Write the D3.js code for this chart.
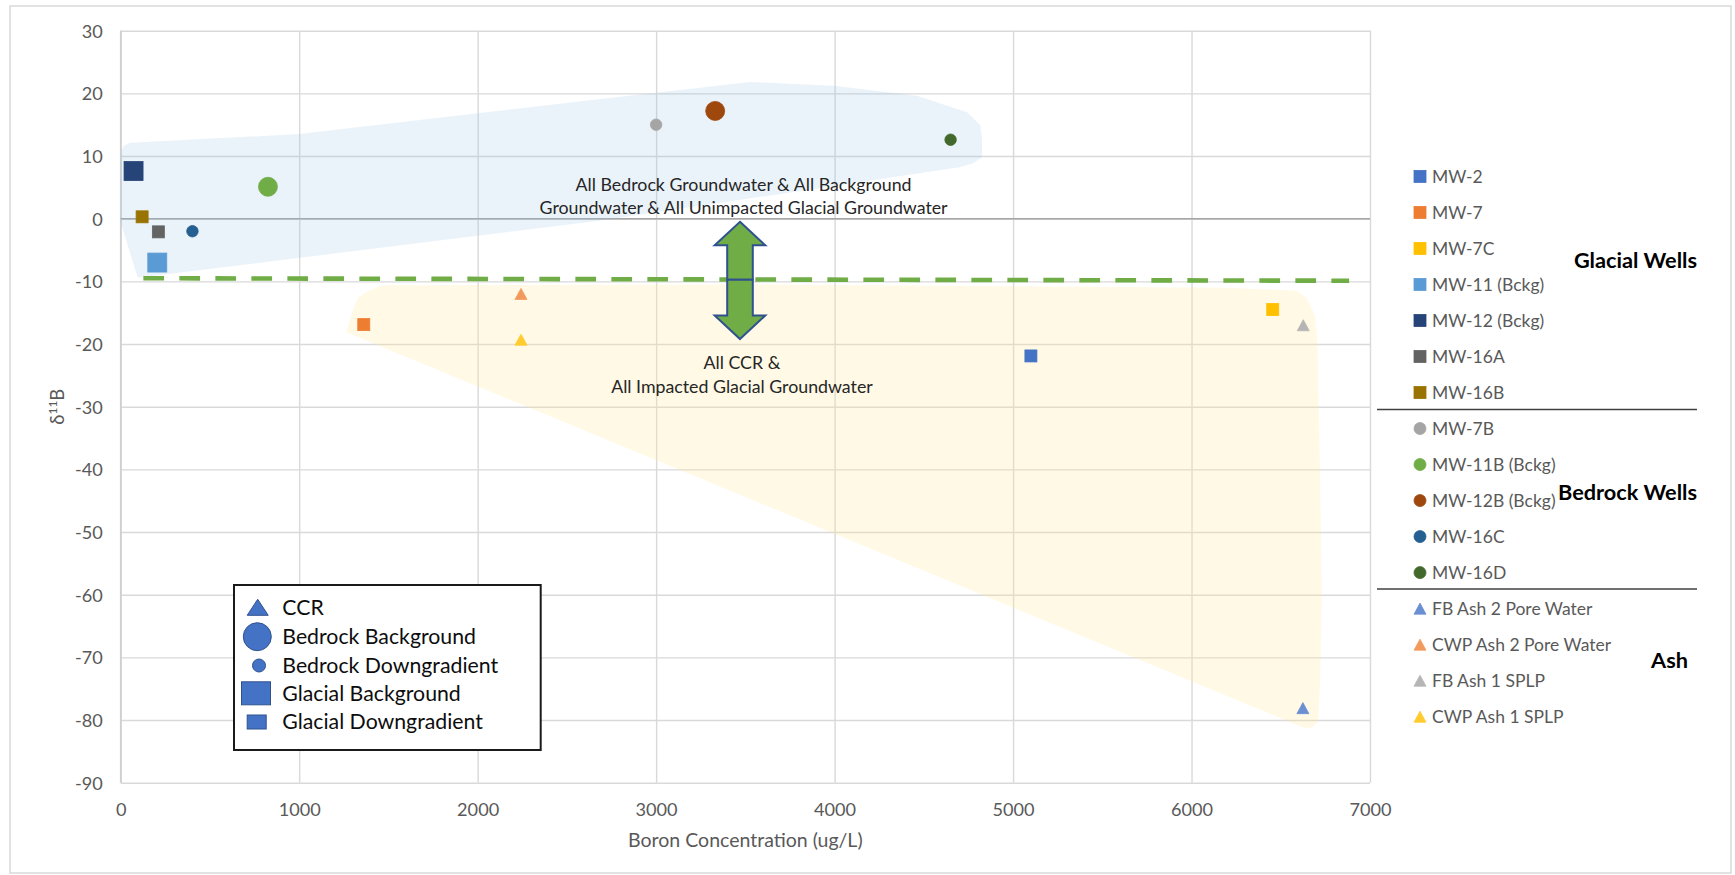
<!DOCTYPE html>
<html>
<head>
<meta charset="utf-8">
<script src="https://cdn.jsdelivr.net/npm/d3@7"></script>
<style>
  html, body { margin: 0; padding: 0; background: #fff; }
  svg { display: block; }
</style>
</head>
<body>
<div class="container"></div>
<script>
// glacial wells (squares)
var glacialWells = ['MW-2', 'MW-7', 'MW-7C', 'MW-11 (Bckg)', 'MW-12 (Bckg)', 'MW-16A', 'MW-16B'];
var glacialBoron = [5100, 1362, 6455, 205, 72, 211, 120];
var glacialD11B = [-21.9, -16.9, -14.5, -7.0, 7.6, -2.1, 0.3];
var glacialBackground = [false, false, false, true, true, false, false];

// bedrock wells (circles)
var bedrockWells = ['MW-7B', 'MW-11B (Bckg)', 'MW-12B (Bckg)', 'MW-16C', 'MW-16D'];
var bedrockBoron = [3000, 825, 3331, 402, 4650];
var bedrockD11B = [15.0, 5.1, 17.2, -2.0, 12.6];
var bedrockBackground = [false, true, true, false, false];

// ash samples (triangles)
var ashSamples = ['FB Ash 2 Pore Water', 'CWP Ash 2 Pore Water', 'FB Ash 1 SPLP', 'CWP Ash 1 SPLP'];
var ashBoron = [6624, 2243, 6626, 2243];
var ashD11B = [-78.1, -12.0, -17.0, -19.3];

var xTicks = [0, 1000, 2000, 3000, 4000, 5000, 6000, 7000];
var yTicks = [30, 20, 10, 0, -10, -20, -30, -40, -50, -60, -70, -80, -90];

// hand drawn zones, in data units
var bedrockZone = [[0, 10.3], [15, 11.6], [52, 12.1], [1000, 13.5], [2690, 19.1], [3527, 21.8], [3994, 21.2],
  [4462, 19.6], [4742, 17.0], [4817, 14.9], [4826, 12.7], [4826, 9.8], [4780, 8.9], [4700, 8.2],
  [2690, -0.3], [130, -9.3], [95, -9.4], [0, -0.6]];
var ccrZone = [[1265, -18.1], [1300, -14.6], [1330, -12.6], [1383, -11.6], [1470, -10.6], [3500, -10.5],
  [6200, -11.0], [6590, -11.5], [6645, -12.7], [6692, -15.5], [6705, -19.9], [6720, -40.8], [6729, -60],
  [6721, -73.4], [6710, -80], [6688, -80.9], [6653, -81.4], [6619, -81.1]];
var splitLine = [[127, -9.5], [6883, -9.9]];
var arrowX = 3470, arrowTop = -0.5, arrowMid = -9.75, arrowBottom = -19.2;

var upperNote = ['All Bedrock Groundwater & All Background', 'Groundwater & All Unimpacted Glacial Groundwater'];
var upperNoteAt = [[3490, 5.4], [3490, 1.7]];
var lowerNote = ['All CCR &', 'All Impacted Glacial Groundwater'];
var lowerNoteAt = [[3481, -23.05], [3481, -26.9]];

var groupLabels = ['Glacial Wells', 'Bedrock Wells', 'Ash'];
var shapeKey = ['CCR', 'Bedrock Background', 'Bedrock Downgradient', 'Glacial Background', 'Glacial Downgradient'];

// colours
var glacialColors = ['#4472C4', '#ED7D31', '#FFC000', '#5B9BD5', '#264478', '#636363', '#997300'];
var bedrockColors = ['#A5A5A5', '#70AD47', '#9E480E', '#255E91', '#43682B'];
var ashColors = ['#6A8FD2', '#F29A5C', '#B5B5B5', '#FFCB2E'];

var W = 1735, H = 875;
var svg = d3.select('.container').append('svg').attr('width', W).attr('height', H);

// Lato is close to Calibri, scale it so widths line up
var probe = svg.append('text').style('font-family', 'Lato').style('font-size', '23px').text('Bedrock Downgradient');
var k = 214.9 / probe.node().getComputedTextLength();
probe.remove();
function fs(c) { return (c * k).toFixed(2) + 'px'; }

svg.append('rect')
  .attr('x', 10).attr('y', 6).attr('width', 1721).attr('height', 867)
  .attr('fill', '#fff').attr('stroke', '#D9D9D9').attr('stroke-width', 1.5);

var x = d3.scaleLinear().domain([0, 7000]).range([120.7, 1370]);
var y = d3.scaleLinear().domain([-90, 30]).range([782.7, 30.7]);

// grid + tick labels (plain hyphen for negatives, like Excel)
var plain = function (d) { return String(d); };
var gx = svg.append('g')
  .attr('transform', 'translate(0,' + y(-90) + ')')
  .call(d3.axisBottom(x).tickValues(xTicks).tickSize(-(y(-90) - y(30))).tickFormat(plain));
var gy = svg.append('g')
  .attr('transform', 'translate(' + x(0) + ',0)')
  .call(d3.axisLeft(y).tickValues(yTicks).tickSize(-(x(7000) - x(0))).tickFormat(plain));
[gx, gy].forEach(function (g) {
  g.select('.domain').remove();
  g.selectAll('line').attr('stroke', '#D9D9D9').attr('stroke-width', 1.4);
  g.selectAll('text').attr('fill', '#595959').style('font-family', 'Lato').style('font-size', fs(19.7));
});
gx.selectAll('text').attr('y', 26.5).attr('dy', '0.35em');
gy.selectAll('text').attr('x', -18).attr('dy', '0.35em');

svg.append('line')
  .attr('x1', x(0)).attr('x2', x(0)).attr('y1', y(30)).attr('y2', y(-90))
  .attr('stroke', '#D0D0D0').attr('stroke-width', 1.6);
svg.append('line')
  .attr('x1', x(0)).attr('x2', x(7000)).attr('y1', y(0)).attr('y2', y(0))
  .attr('stroke', '#A6A6A6').attr('stroke-width', 1.6);

// axis titles
svg.append('text')
  .attr('x', (x(0) + x(7000)) / 2).attr('y', 840).attr('dy', '0.35em')
  .attr('text-anchor', 'middle').attr('fill', '#595959')
  .style('font-family', 'Lato').style('font-size', fs(21.2))
  .text('Boron Concentration (ug/L)');

var yt = svg.append('text')
  .attr('transform', 'translate(58,' + (y(30) + y(-90)) / 2 + ') rotate(-90)')
  .attr('text-anchor', 'middle').attr('dy', '0.35em').attr('fill', '#595959')
  .style('font-family', 'Lato').style('font-size', fs(20));
yt.append('tspan').text('δ');
yt.append('tspan').attr('dy', -8 * k).style('font-size', fs(13)).text('11');
yt.append('tspan').attr('dy', 8 * k).text('B');

// zones
var zoneLine = d3.line()
  .x(function (d) { return x(d[0]); })
  .y(function (d) { return y(d[1]); })
  .curve(d3.curveLinearClosed);
svg.append('path').attr('d', zoneLine(bedrockZone)).attr('fill', '#9DC3E6').attr('fill-opacity', 0.2);
svg.append('path').attr('d', zoneLine(ccrZone)).attr('fill', '#FFE699').attr('fill-opacity', 0.25);

// markers
function drawMarker(g, shape, size, color, stroke) {
  if (shape === 'square') {
    g.append('rect').attr('x', -size / 2).attr('y', -size / 2).attr('width', size).attr('height', size)
      .attr('fill', color).attr('stroke', stroke || color).attr('stroke-width', 0.8);
  } else if (shape === 'circle') {
    g.append('circle').attr('r', size / 2)
      .attr('fill', color).attr('stroke', stroke || color).attr('stroke-width', 0.8);
  } else {
    var h = size * 0.92;
    g.append('path').attr('d', 'M0,' + (-h / 2) + 'L' + (size / 2) + ',' + (h / 2) + 'L' + (-size / 2) + ',' + (h / 2) + 'Z')
      .attr('fill', color).attr('stroke', stroke || color).attr('stroke-width', 0.8);
  }
}

var points = svg.append('g');
glacialWells.forEach(function (n, i) {
  var g = points.append('g').attr('transform', 'translate(' + x(glacialBoron[i]) + ',' + y(glacialD11B[i]) + ')');
  drawMarker(g, 'square', glacialBackground[i] ? 19 : 12, glacialColors[i]);
});
bedrockWells.forEach(function (n, i) {
  var g = points.append('g').attr('transform', 'translate(' + x(bedrockBoron[i]) + ',' + y(bedrockD11B[i]) + ')');
  drawMarker(g, 'circle', bedrockBackground[i] ? 19 : 11.5, bedrockColors[i]);
});
ashSamples.forEach(function (n, i) {
  var g = points.append('g').attr('transform', 'translate(' + x(ashBoron[i]) + ',' + y(ashD11B[i]) + ')');
  drawMarker(g, 'triangle', 12, ashColors[i]);
});

// dashed divider
svg.append('line')
  .attr('x1', x(splitLine[0][0])).attr('y1', y(splitLine[0][1]))
  .attr('x2', x(splitLine[1][0])).attr('y2', y(splitLine[1][1]))
  .attr('stroke', '#70AD47').attr('stroke-width', 4.6).attr('stroke-dasharray', '20.7 15.3');

// double arrow (two block arrows meeting at the middle)
var ax = x(arrowX), hw = 25.3, sw = 12.8, hh = 23.5;
function blockArrow(tip, base, dir) {
  var b = tip + dir * hh;
  return 'M' + ax + ',' + tip + 'L' + (ax + hw) + ',' + b + 'L' + (ax + sw) + ',' + b + 'L' + (ax + sw) + ',' + base +
    'L' + (ax - sw) + ',' + base + 'L' + (ax - sw) + ',' + b + 'L' + (ax - hw) + ',' + b + 'Z';
}
svg.append('path').attr('d', blockArrow(y(arrowTop), y(arrowMid), 1))
  .attr('fill', '#70AD47').attr('stroke', '#2F528F').attr('stroke-width', 2).attr('stroke-linejoin', 'miter');
svg.append('path').attr('d', blockArrow(y(arrowBottom), y(arrowMid), -1))
  .attr('fill', '#70AD47').attr('stroke', '#2F528F').attr('stroke-width', 2).attr('stroke-linejoin', 'miter');

// notes
function note(lines, at) {
  lines.forEach(function (t, i) {
    svg.append('text')
      .attr('x', x(at[i][0])).attr('y', y(at[i][1])).attr('dy', '0.35em')
      .attr('text-anchor', 'middle').attr('fill', '#262626')
      .style('font-family', 'Lato').style('font-size', fs(19.3))
      .text(t);
  });
}
note(upperNote, upperNoteAt);
note(lowerNote, lowerNoteAt);

// right legend
var legendRows = [];
glacialWells.forEach(function (n, i) { legendRows.push({ name: n, shape: 'square', color: glacialColors[i] }); });
bedrockWells.forEach(function (n, i) { legendRows.push({ name: n, shape: 'circle', color: bedrockColors[i] }); });
ashSamples.forEach(function (n, i) { legendRows.push({ name: n, shape: 'triangle', color: ashColors[i] }); });

var rl = svg.append('g');
legendRows.forEach(function (r, i) {
  var ry = 176.4 + 36.02 * i;
  var g = rl.append('g').attr('transform', 'translate(1420,' + ry + ')');
  drawMarker(g, r.shape, 12, r.color);
  rl.append('text').attr('x', 1432).attr('y', ry).attr('dy', '0.35em')
    .attr('fill', '#595959').style('font-family', 'Lato').style('font-size', fs(19))
    .text(r.name);
});
[409.5, 589].forEach(function (ly) {
  rl.append('line').attr('x1', 1377).attr('x2', 1697).attr('y1', ly).attr('y2', ly)
    .attr('stroke', '#404040').attr('stroke-width', 1.6);
});
var groupY = [260, 492, 660], groupRight = [1697, 1697, 1688];
groupLabels.forEach(function (t, i) {
  rl.append('text').attr('x', groupRight[i]).attr('y', groupY[i]).attr('dy', '0.35em')
    .attr('text-anchor', 'end').attr('fill', '#000')
    .style('font-family', 'Lato').style('font-weight', 'bold').style('font-size', fs(23.6))
    .text(t);
});

// shape key box
var kb = svg.append('g');
kb.append('rect').attr('x', 234).attr('y', 585).attr('width', 306.7).attr('height', 165)
  .attr('fill', '#fff').attr('stroke', '#1a1a1a').attr('stroke-width', 2);
var keyY = [607.3, 636.7, 665.5, 693.3, 722];
var k0 = kb.append('g').attr('transform', 'translate(257.7,' + keyY[0] + ')');
k0.append('path').attr('d', 'M0,-8L10.5,8L-10.5,8Z').attr('fill', '#4472C4').attr('stroke', '#2F528F');
kb.append('circle').attr('cx', 257.3).attr('cy', keyY[1]).attr('r', 14).attr('fill', '#4472C4').attr('stroke', '#2F528F');
kb.append('circle').attr('cx', 259).attr('cy', keyY[2]).attr('r', 6.5).attr('fill', '#4472C4').attr('stroke', '#2F528F');
kb.append('rect').attr('x', 256 - 14.5).attr('y', keyY[3] - 11.5).attr('width', 29).attr('height', 23)
  .attr('fill', '#4472C4').attr('stroke', '#2F528F');
kb.append('rect').attr('x', 256.7 - 9.5).attr('y', keyY[4] - 7).attr('width', 19).attr('height', 14)
  .attr('fill', '#4472C4').attr('stroke', '#2F528F');
shapeKey.forEach(function (t, i) {
  kb.append('text').attr('x', 282.3).attr('y', keyY[i]).attr('dy', '0.35em')
    .attr('fill', '#0d0d0d').style('font-family', 'Lato').style('font-size', fs(23.1))
    .text(t);
});
</script>
</body>
</html>
